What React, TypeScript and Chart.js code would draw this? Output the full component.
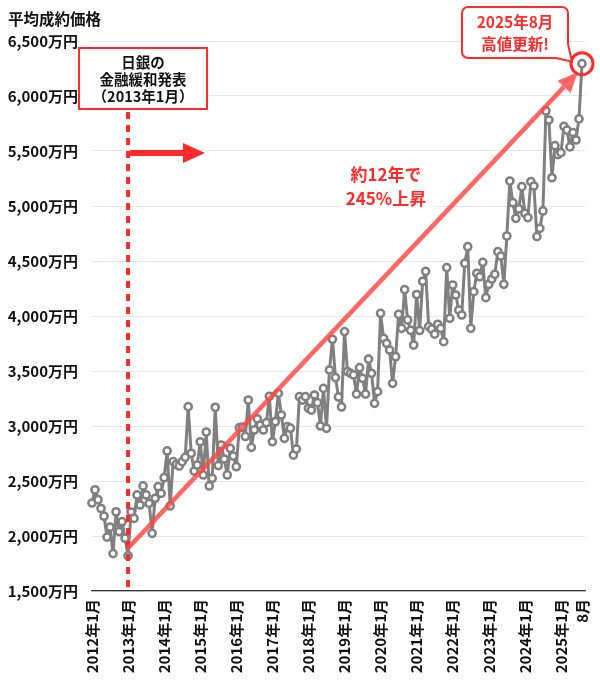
import React, { useEffect, useRef } from "react";
import { Chart, registerables } from "chart.js";

Chart.register(...registerables);

// ---- data (万円, monthly from 2012年1月) ----
const price2012 = [2300, 2420, 2330, 2250, 2180, 1990, 2080, 1840, 2220, 2040, 2130, 1980];
const price2013 = [1820, 2218, 2160, 2373, 2282, 2455, 2373, 2297, 2024, 2343, 2448, 2388];
const price2014 = [2530, 2773, 2273, 2676, 2650, 2636, 2676, 2715, 3176, 2752, 2590, 2645];
const price2015 = [2857, 2555, 2945, 2455, 2524, 3170, 2640, 2827, 2700, 2555, 2797, 2727];
const price2016 = [2630, 2985, 2990, 2905, 3236, 2806, 2964, 3065, 3009, 2964, 3030, 3270];
const price2017 = [2857, 3039, 3297, 3100, 2888, 2994, 2980, 2736, 2790, 3267, 3236, 3267];
const price2018 = [3161, 3145, 3282, 3212, 3000, 3342, 2979, 3509, 3788, 3440, 3264, 3173];
const price2019 = [3858, 3494, 3479, 3464, 3290, 3530, 3433, 3290, 3608, 3479, 3206, 3312];
const price2020 = [4024, 3797, 3752, 3691, 3388, 3630, 4015, 3888, 4240, 3964, 3870, 3736];
const price2021 = [4195, 3868, 4316, 4406, 3903, 3880, 3835, 3925, 3888, 3767, 4440, 3979];
const price2022 = [4282, 4191, 4054, 4009, 4479, 4630, 3888, 4221, 4388, 4357, 4488, 4167];
const price2023 = [4288, 4336, 4379, 4585, 4545, 4288, 4727, 5227, 5030, 4888, 4973, 5176];
const price2024 = [4933, 4894, 5221, 5182, 4721, 4797, 4955, 5864, 5782, 5257, 5548, 5467];
const price2025 = [5485, 5724, 5690, 5537, 5668, 5600, 5792, 6294];

const monthlyPrices = [
  ...price2012, ...price2013, ...price2014, ...price2015, ...price2016,
  ...price2017, ...price2018, ...price2019, ...price2020, ...price2021,
  ...price2022, ...price2023, ...price2024, ...price2025,
];

const tickMonths = [0, 12, 24, 36, 48, 60, 72, 84, 96, 108, 120, 132, 144, 156, 163];
const tickLabels = [
  "2012年1月", "2013年1月", "2014年1月", "2015年1月", "2016年1月",
  "2017年1月", "2018年1月", "2019年1月", "2020年1月", "2021年1月",
  "2022年1月", "2023年1月", "2024年1月", "2025年1月", "8月",
];

const Y_MIN = 1500;
const Y_MAX = 6500;
const Y_STEP = 500;

const yAxisTitle = "平均成約価格";
const eventMonth = 12; // 2013年1月
const eventNote = ["日銀の", "金融緩和発表", "（2013年1月）"];
const growthNote = ["約12年で", "245%上昇"];
const peakNote = ["2025年8月", "高値更新!"];
const arrowStartValue = 1890;
const arrowEndMonth = 161.6;
const arrowEndValue = 6215;

const FONT = '"Noto Sans CJK JP", "Noto Sans", sans-serif';
const RED = "#ff2a2a";

const notesPlugin = {
  id: "notes",
  afterDatasetsDraw(chart: any) {
    const { ctx, chartArea, scales } = chart;
    const x = scales.x;
    const y = scales.y;
    const f = (s: number) => `bold ${s}px ${FONT}`;
    ctx.save();
    ctx.textAlign = "center";
    ctx.textBaseline = "middle";

    // growth note with white backdrop
    ctx.fillStyle = "#fff";
    ctx.fillRect(342, 161, 92, 50);
    ctx.fillStyle = RED;
    ctx.font = f(17);
    growthNote.forEach((t, i) => ctx.fillText(t, 386, 175 + i * 24));

    // dashed vertical line at event
    const ex = x.getPixelForValue(eventMonth);
    ctx.strokeStyle = RED;
    ctx.lineWidth = 4;
    ctx.setLineDash([7, 6]);
    ctx.beginPath();
    ctx.moveTo(ex, 112);
    ctx.lineTo(ex, chartArea.bottom);
    ctx.stroke();
    ctx.setLineDash([]);

    // diagonal arrow
    const ax0 = ex;
    const ay0 = y.getPixelForValue(arrowStartValue);
    const ax1 = x.getPixelForValue(arrowEndMonth);
    const ay1 = y.getPixelForValue(arrowEndValue);
    const ang = Math.atan2(ay1 - ay0, ax1 - ax0);
    const headLen = 20;
    const headHalf = 9;
    const bx = ax1 - headLen * Math.cos(ang);
    const by = ay1 - headLen * Math.sin(ang);
    ctx.strokeStyle = "rgba(255,70,70,0.82)";
    ctx.fillStyle = "rgba(255,70,70,0.82)";
    ctx.lineWidth = 4.5;
    ctx.beginPath();
    ctx.moveTo(ax0, ay0);
    ctx.lineTo(bx, by);
    ctx.stroke();
    ctx.beginPath();
    ctx.moveTo(ax1, ay1);
    ctx.lineTo(bx + headHalf * Math.sin(ang), by - headHalf * Math.cos(ang));
    ctx.lineTo(bx - headHalf * Math.sin(ang), by + headHalf * Math.cos(ang));
    ctx.closePath();
    ctx.fill();

    // horizontal arrow right of event line
    ctx.fillStyle = RED;
    ctx.fillRect(ex + 2, 150, 183 - ex - 2, 6);
    ctx.beginPath();
    ctx.moveTo(183, 143);
    ctx.lineTo(205, 153);
    ctx.lineTo(183, 163);
    ctx.closePath();
    ctx.fill();

    // event box
    ctx.fillStyle = "#fff";
    ctx.fillRect(79, 48, 128, 61);
    ctx.strokeStyle = RED;
    ctx.lineWidth = 2;
    ctx.strokeRect(79, 48, 128, 61);
    ctx.fillStyle = "#111";
    ctx.font = f(14.5);
    const bcx = 143;
    eventNote.forEach((t, i) => ctx.fillText(t, bcx, 62 + i * 17));

    // ring on latest point
    const lastI = monthlyPrices.length - 1;
    const px = x.getPixelForValue(lastI);
    const py = y.getPixelForValue(monthlyPrices[lastI]);
    ctx.strokeStyle = RED;
    ctx.lineWidth = 3;
    ctx.beginPath();
    ctx.arc(px, py, 11, 0, Math.PI * 2);
    ctx.stroke();

    // peak callout with tail
    const x0 = 462, y0 = 7, x1 = 568, y1 = 58, r = 6;
    ctx.beginPath();
    ctx.moveTo(x0 + r, y0);
    ctx.lineTo(x1 - r, y0);
    ctx.arcTo(x1, y0, x1, y0 + r, r);
    ctx.lineTo(x1, y1 - 14);
    ctx.lineTo(px - 10, py - 2);
    ctx.lineTo(x1 - 12, y1);
    ctx.lineTo(x0 + r, y1);
    ctx.arcTo(x0, y1, x0, y1 - r, r);
    ctx.lineTo(x0, y0 + r);
    ctx.arcTo(x0, y0, x0 + r, y0, r);
    ctx.closePath();
    ctx.fillStyle = "#fff";
    ctx.fill();
    ctx.lineWidth = 2;
    ctx.strokeStyle = RED;
    ctx.stroke();
    ctx.fillStyle = RED;
    ctx.font = f(15.5);
    peakNote.forEach((t, i) => ctx.fillText(t, 515, 22 + i * 22));

    ctx.restore();
  },
  afterDraw(chart: any) {
    const ctx = chart.ctx;
    ctx.save();
    ctx.fillStyle = "#111";
    ctx.font = `bold 15.5px ${FONT}`;
    ctx.textAlign = "left";
    ctx.textBaseline = "middle";
    ctx.fillText(yAxisTitle, 8, 19);
    ctx.restore();
  },
};

export default function App() {
  const canvasRef = useRef<HTMLCanvasElement | null>(null);

  useEffect(() => {
    if (!canvasRef.current) return;
    Chart.defaults.font.family = FONT;
    const chart = new Chart(canvasRef.current, {
      type: "line",
      data: {
        datasets: [
          {
            data: monthlyPrices.map((v, i) => ({ x: i, y: v })),
            borderColor: "#808080",
            borderWidth: 3,
            borderJoinStyle: "round",
            borderCapStyle: "round",
            pointRadius: 3.6,
            pointBorderWidth: 2.5,
            pointBackgroundColor: "#ffffff",
            pointBorderColor: "#808080",
            tension: 0,
            clip: false,
          },
        ],
      },
      options: {
        responsive: false,
        animation: false,
        devicePixelRatio: 1,
        layout: { padding: { top: 41, right: 15, left: 0, bottom: 0 } },
        plugins: { legend: { display: false }, tooltip: { enabled: false } },
        scales: {
          x: {
            type: "linear",
            min: 0,
            max: monthlyPrices.length,
            afterBuildTicks: (s: any) => {
              s.ticks = tickMonths.map((v) => ({ value: v }));
            },
            afterFit: (s: any) => {
              s.height = 94;
              s.paddingLeft = 0;
              s.paddingRight = 0;
            },
            grid: { display: false, drawTicks: false },
            border: { display: true, color: "#333", width: 1.2 },
            ticks: {
              autoSkip: false,
              minRotation: 90,
              maxRotation: 90,
              padding: 8,
              color: "#111",
              font: { size: 15, weight: "bold" },
              callback: (v: any) => {
                const k = tickMonths.indexOf(Number(v));
                return k >= 0 ? tickLabels[k] : "";
              },
            },
          },
          y: {
            min: Y_MIN,
            max: Y_MAX,
            afterFit: (s: any) => {
              s.width = 92;
            },
            grid: { color: "#e6e6e6", lineWidth: 1, drawTicks: false },
            border: { display: false },
            ticks: {
              stepSize: Y_STEP,
              padding: 14,
              color: "#111",
              font: { size: 15, weight: "bold" },
              callback: (v: any) => Number(v).toLocaleString("en-US") + "万円",
            },
          },
        },
      } as any,
      plugins: [notesPlugin],
    });
    return () => chart.destroy();
  }, []);

  return (
    <div style={{ position: "absolute", left: 0, top: 0, width: 600, height: 685, background: "#fff" }}>
      <canvas ref={canvasRef} width={600} height={685} style={{ display: "block" }} />
    </div>
  );
}
